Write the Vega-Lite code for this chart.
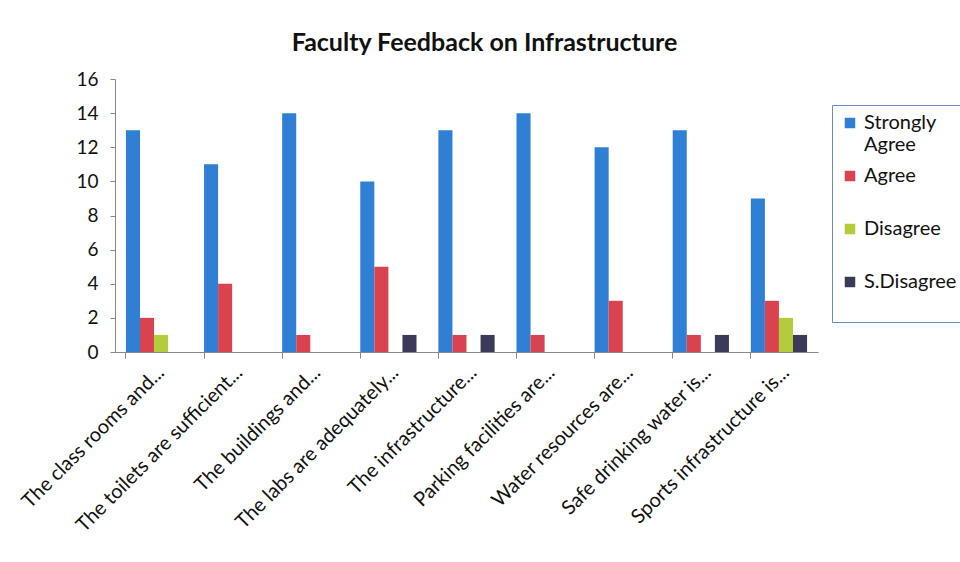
{
  "$schema": "https://vega.github.io/schema/vega-lite/v6.json",
  "width": 703,
  "height": 273,
  "autosize": "none",
  "padding": {"left": 115, "top": 79, "right": 142, "bottom": 210},
  "background": "white",
  "title": {
    "text": "Faculty Feedback on Infrastructure",
    "font": "Lato",
    "fontSize": 25,
    "fontWeight": "bold",
    "color": "#111111",
    "anchor": "middle",
    "dx": 18,
    "offset": 14
  },
  "data": {
    "values": [
      {"item": "The class rooms and...", "response": "Strongly Agree", "count": 13},
      {"item": "The class rooms and...", "response": "Agree", "count": 2},
      {"item": "The class rooms and...", "response": "Disagree", "count": 1},
      {"item": "The class rooms and...", "response": "S.Disagree", "count": 0},
      {"item": "The toilets are sufficient...", "response": "Strongly Agree", "count": 11},
      {"item": "The toilets are sufficient...", "response": "Agree", "count": 4},
      {"item": "The toilets are sufficient...", "response": "Disagree", "count": 0},
      {"item": "The toilets are sufficient...", "response": "S.Disagree", "count": 0},
      {"item": "The buildings and...", "response": "Strongly Agree", "count": 14},
      {"item": "The buildings and...", "response": "Agree", "count": 1},
      {"item": "The buildings and...", "response": "Disagree", "count": 0},
      {"item": "The buildings and...", "response": "S.Disagree", "count": 0},
      {"item": "The labs are adequately...", "response": "Strongly Agree", "count": 10},
      {"item": "The labs are adequately...", "response": "Agree", "count": 5},
      {"item": "The labs are adequately...", "response": "Disagree", "count": 0},
      {"item": "The labs are adequately...", "response": "S.Disagree", "count": 1},
      {"item": "The infrastructure...", "response": "Strongly Agree", "count": 13},
      {"item": "The infrastructure...", "response": "Agree", "count": 1},
      {"item": "The infrastructure...", "response": "Disagree", "count": 0},
      {"item": "The infrastructure...", "response": "S.Disagree", "count": 1},
      {"item": "Parking facilities are...", "response": "Strongly Agree", "count": 14},
      {"item": "Parking facilities are...", "response": "Agree", "count": 1},
      {"item": "Parking facilities are...", "response": "Disagree", "count": 0},
      {"item": "Parking facilities are...", "response": "S.Disagree", "count": 0},
      {"item": "Water resources are...", "response": "Strongly Agree", "count": 12},
      {"item": "Water resources are...", "response": "Agree", "count": 3},
      {"item": "Water resources are...", "response": "Disagree", "count": 0},
      {"item": "Water resources are...", "response": "S.Disagree", "count": 0},
      {"item": "Safe drinking water is...", "response": "Strongly Agree", "count": 13},
      {"item": "Safe drinking water is...", "response": "Agree", "count": 1},
      {"item": "Safe drinking water is...", "response": "Disagree", "count": 0},
      {"item": "Safe drinking water is...", "response": "S.Disagree", "count": 1},
      {"item": "Sports infrastructure is...", "response": "Strongly Agree", "count": 9},
      {"item": "Sports infrastructure is...", "response": "Agree", "count": 3},
      {"item": "Sports infrastructure is...", "response": "Disagree", "count": 2},
      {"item": "Sports infrastructure is...", "response": "S.Disagree", "count": 1}
    ]
  },
  "mark": {"type": "bar"},
  "encoding": {
    "x": {
      "field": "item",
      "type": "nominal",
      "sort": null,
      "title": null,
      "scale": {"paddingInner": 0.28, "paddingOuter": 0.14},
      "axis": {
        "labelAngle": -45,
        "labelAlign": "right",
        "labelBaseline": "top",
        "labelFont": "Lato",
        "labelFontSize": 20,
        "labelColor": "#111111",
        "labelLimit": 300,
        "labelPadding": 4,
        "bandPosition": 0,
        "domainColor": "#888888",
        "tickColor": "#888888",
        "tickSize": 6
      }
    },
    "xOffset": {
      "field": "response",
      "type": "nominal",
      "sort": ["Strongly Agree", "Agree", "Disagree", "S.Disagree"]
    },
    "y": {
      "field": "count",
      "type": "quantitative",
      "title": null,
      "scale": {"domain": [0, 16]},
      "axis": {
        "values": [0, 2, 4, 6, 8, 10, 12, 14, 16],
        "grid": false,
        "labelFont": "Lato",
        "labelFontSize": 19,
        "labelColor": "#111111",
        "labelPadding": 12,
        "domainColor": "#888888",
        "tickColor": "#888888",
        "tickSize": 5
      }
    },
    "color": {
      "field": "response",
      "type": "nominal",
      "sort": ["Strongly Agree", "Agree", "Disagree", "S.Disagree"],
      "scale": {
        "domain": ["Strongly Agree", "Agree", "Disagree", "S.Disagree"],
        "range": ["#2f7fd5", "#d9434f", "#b3cc3c", "#3b3a58"]
      },
      "legend": {
        "title": null,
        "orient": "none",
        "legendX": 717,
        "legendY": 26,
        "symbolType": "square",
        "symbolSize": 110,
        "labelFont": "Lato",
        "labelFontSize": 20,
        "labelColor": "#111111",
        "labelExpr": "datum.label == 'Strongly Agree' ? ['Strongly', 'Agree'] : [datum.label, '']",
        "rowPadding": 11,
        "strokeColor": "#6a8cbf",
        "padding": 8,
        "labelOffset": 4
      }
    }
  },
  "config": {
    "view": {"stroke": null}
  }
}
